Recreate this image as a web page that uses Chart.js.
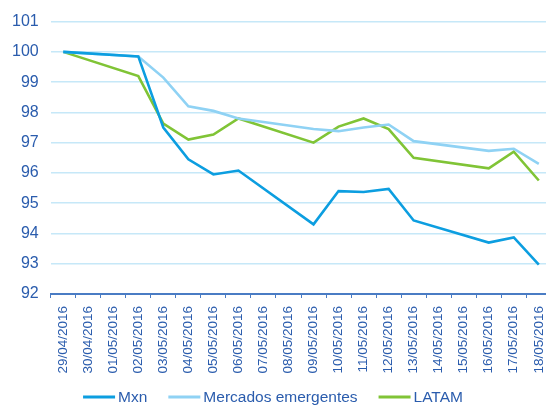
<!DOCTYPE html>
<html>
<head>
<meta charset="utf-8">
<script src="https://cdn.jsdelivr.net/npm/chart.js@4/dist/chart.umd.min.js"></script>
<style>
html,body{margin:0;padding:0;background:#fff;overflow:hidden;width:546px;height:407px;}
canvas{display:block;}
</style>
</head>
<body>
<canvas id="c" width="563" height="407"></canvas>
<script>
const categories = ["29/04/2016","30/04/2016","01/05/2016","02/05/2016","03/05/2016","04/05/2016","05/05/2016","06/05/2016","07/05/2016","08/05/2016","09/05/2016","10/05/2016","11/05/2016","12/05/2016","13/05/2016","14/05/2016","15/05/2016","16/05/2016","17/05/2016","18/05/2016"];
const mxn = [100.0,null,null,99.85,97.5,96.45,95.95,96.08,null,null,94.3,95.4,95.37,95.47,94.43,null,null,93.7,93.87,92.97];
const mercados = [100.0,null,null,99.85,99.15,98.2,98.05,97.8,null,null,97.45,97.38,97.5,97.6,97.05,null,null,96.73,96.8,96.3];
const latam = [100.0,null,null,99.2,97.63,97.1,97.27,97.8,null,null,97.0,97.53,97.8,97.45,96.5,null,null,96.15,96.7,95.75];
const yTicks = [92,93,94,95,96,97,98,99,100,101];

const textColor = '#2a5cad';
const font = "'Liberation Sans', Arial, sans-serif";

function ds(label, data, color){
  return {label, data, borderColor: color, backgroundColor: color, borderWidth: 2.6,
          pointRadius: 0, pointHoverRadius: 0, tension: 0, spanGaps: true};
}

// custom bottom legend drawn from the datasets
const legendPlugin = {
  id: 'lineLegend',
  afterDraw(chart) {
    const ctx = chart.ctx;
    const lineW = 32, gap = 3, itemGap = 21, y = 397, centerX = 273;
    ctx.save();
    ctx.font = '15.5px ' + font;
    ctx.textBaseline = 'middle';
    const items = chart.data.datasets.map(d => ({label: d.label, color: d.borderColor, w: ctx.measureText(d.label).width}));
    const total = items.reduce((s, it) => s + lineW + gap + it.w, 0) + itemGap * (items.length - 1);
    let x = centerX - total / 2;
    items.forEach(it => {
      ctx.strokeStyle = it.color;
      ctx.lineWidth = 3;
      ctx.beginPath();
      ctx.moveTo(x, y);
      ctx.lineTo(x + lineW, y);
      ctx.stroke();
      x += lineW + gap;
      ctx.fillStyle = textColor;
      ctx.fillText(it.label, x, y + 1);
      x += it.w + itemGap;
    });
    ctx.restore();
  }
};

new Chart(document.getElementById('c'), {
  type: 'line',
  data: {
    labels: categories,
    datasets: [
      ds('Mxn', mxn, '#0c9ee0'),
      ds('Mercados emergentes', mercados, '#8fd2f4'),
      ds('LATAM', latam, '#80c436')
    ]
  },
  plugins: [legendPlugin],
  options: {
    responsive: false,
    animation: false,
    layout: {padding: {left: 0, right: 0, top: 12, bottom: 25}},
    plugins: {
      tooltip: {enabled: false},
      legend: {display: false}
    },
    scales: {
      x: {
        type: 'category',
        offset: true,
        afterFit: (s) => { s.height = 88; },
        grid: {display: true, drawOnChartArea: false, drawTicks: true, tickLength: 4, color: '#4a7cc4', offset: true},
        border: {display: true, color: '#4a7cc4', width: 2},
        ticks: {color: textColor, font: {family: font, size: 13.5}, minRotation: 90, maxRotation: 90, autoSkip: false, padding: 8}
      },
      y: {
        min: 92, max: 101,
        afterBuildTicks: (axis) => { axis.ticks = yTicks.map(v => ({value: v})); },
        grid: {color: '#c6e8f8', lineWidth: 1.5, drawTicks: false},
        border: {display: false},
        ticks: {color: textColor, font: {family: font, size: 16}, padding: 12}
      }
    }
  }
});
</script>
</body>
</html>
